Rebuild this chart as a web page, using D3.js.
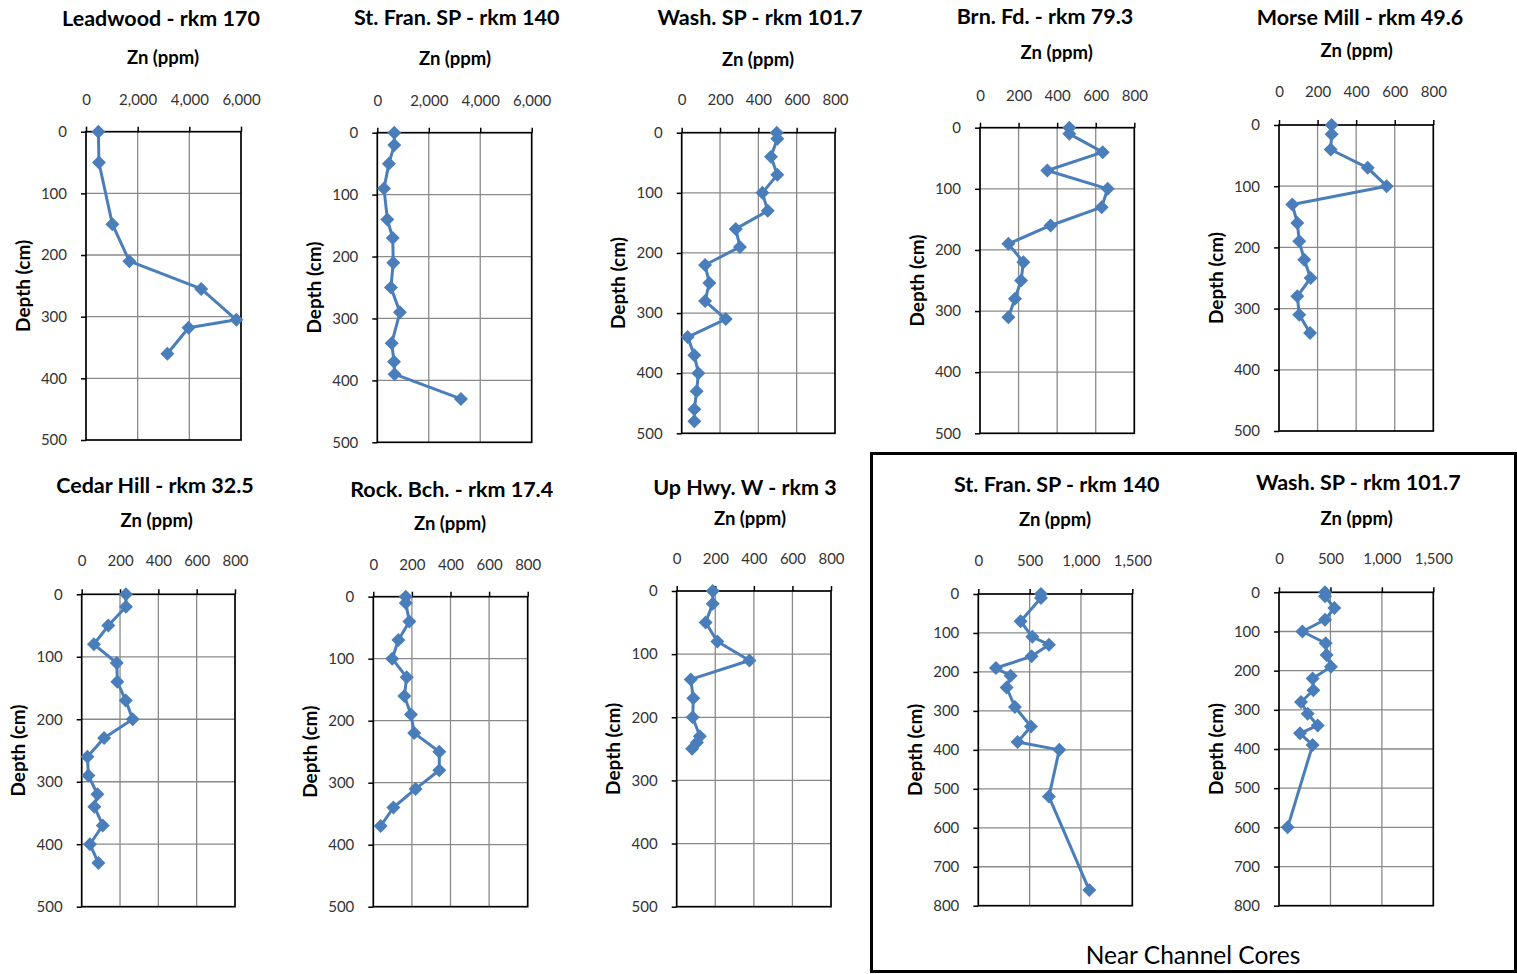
<!DOCTYPE html>
<html>
<head>
<meta charset="utf-8">
<script src="https://cdn.jsdelivr.net/npm/d3@7"></script>
<style>
  html, body { margin: 0; padding: 0; background: #fff; }
  svg { display: block; font-family: Lato, "Open Sans", sans-serif; }
</style>
</head>
<body>
<svg id="chart" width="1517" height="974"></svg>
<script>
// ---------- DATA ----------
const coreTitles = [
  "Leadwood - rkm 170", "St. Fran. SP - rkm 140", "Wash. SP - rkm 101.7",
  "Brn. Fd. - rkm 79.3", "Morse Mill - rkm 49.6", "Cedar Hill - rkm 32.5",
  "Rock. Bch. - rkm 17.4", "Up Hwy. W - rkm 3",
  "St. Fran. SP - rkm 140", "Wash. SP - rkm 101.7"
];
const xAxisTitle = "Zn (ppm)";
const yAxisTitle = "Depth (cm)";
const groupLabel = "Near Channel Cores";

const xTicksHigh = [0, 2000, 4000, 6000];
const xTicksLow = [0, 200, 400, 600, 800];
const xTicksChannel = [0, 500, 1000, 1500];
const yTicksShallow = [0, 100, 200, 300, 400, 500];
const yTicksDeep = [0, 100, 200, 300, 400, 500, 600, 700, 800];

const leadwoodDepth = [0, 50, 150, 210, 255, 305, 318, 360];
const leadwoodZn    = [480, 500, 1020, 1680, 4460, 5820, 3970, 3150];

const stFranDepth = [0, 20, 50, 90, 140, 170, 210, 250, 290, 340, 370, 390, 430];
const stFranZn    = [660, 660, 450, 260, 390, 600, 620, 530, 880, 560, 650, 670, 3250];

const washDepth = [0, 10, 40, 70, 100, 130, 160, 190, 220, 250, 280, 310, 340, 370, 400, 430, 460, 480];
const washZn    = [496, 499, 466, 499, 421, 449, 282, 304, 122, 144, 122, 230, 31, 66, 87, 78, 66, 66];

const brnFdDepth = [0, 10, 40, 70, 100, 130, 160, 190, 220, 250, 280, 310];
const brnFdZn    = [463, 463, 636, 349, 662, 631, 366, 147, 225, 213, 181, 147];

const morseDepth = [0, 15, 40, 70, 100, 130, 160, 190, 220, 250, 280, 310, 340];
const morseZn    = [273, 273, 268, 460, 558, 69, 95, 105, 131, 164, 95, 105, 161];

const cedarDepth = [0, 20, 50, 80, 110, 140, 170, 200, 230, 260, 290, 320, 340, 370, 400, 430];
const cedarZn    = [231, 231, 139, 64, 183, 186, 230, 266, 117, 30, 35, 82, 66, 110, 43, 87];

const rockDepth = [0, 10, 40, 70, 100, 130, 160, 190, 220, 250, 280, 310, 340, 370];
const rockZn    = [168, 168, 187, 130, 98, 173, 161, 195, 212, 342, 342, 219, 104, 38];

const upHwyDepth = [0, 20, 50, 80, 110, 140, 170, 200, 230, 240, 250];
const upHwyZn    = [187, 187, 150, 211, 377, 73, 86, 83, 120, 105, 80];

const stFranChDepth = [0, 10, 70, 110, 130, 160, 190, 210, 240, 290, 340, 380, 400, 520, 760];
const stFranChZn    = [610, 610, 412, 526, 688, 519, 172, 315, 276, 357, 513, 383, 789, 688, 1081];

const washChDepth = [0, 10, 40, 70, 100, 130, 160, 190, 220, 250, 280, 310, 340, 360, 390, 600];
const washChZn    = [447, 447, 538, 447, 227, 454, 463, 505, 327, 334, 214, 279, 376, 204, 327, 84];

// ---------- LAYOUT (positions only) ----------
const layout = [
  {L: 86,    R: 241,    T: 131.7, B: 440,   tx: 161,    ty: 18,  zx: 163,    zy: 57,  ky: 98.5},
  {L: 377.3, R: 531.7,  T: 132.7, B: 442.3, tx: 456.7,  ty: 17,  zx: 455,    zy: 58,  ky: 100},
  {L: 681.7, R: 835,    T: 132.7, B: 433.3, tx: 760,    ty: 17,  zx: 758,    zy: 59,  ky: 99},
  {L: 980,   R: 1134.3, T: 127.7, B: 433.3, tx: 1045,   ty: 16,  zx: 1056.7, zy: 52,  ky: 95},
  {L: 1279,  R: 1433.3, T: 125,   B: 431,   tx: 1360,   ty: 17,  zx: 1356.7, zy: 50,  ky: 91},
  {L: 81.7,  R: 235,    T: 594.3, B: 906.7, tx: 155,    ty: 485, zx: 156.7,  zy: 520, ky: 560},
  {L: 373.3, R: 527.7,  T: 596.7, B: 906.7, tx: 451.7,  ty: 489, zx: 450,    zy: 523, ky: 564},
  {L: 676.7, R: 831,    T: 591,   B: 906.7, tx: 745,    ty: 487, zx: 750,    zy: 518, ky: 557.7},
  {L: 978.3, R: 1132.3, T: 594,   B: 905.7, tx: 1056.7, ty: 484, zx: 1055,   zy: 519, ky: 560},
  {L: 1279,  R: 1433.3, T: 592.3, B: 905.7, tx: 1358.3, ty: 482, zx: 1356.7, zy: 518, ky: 558}
];

const series = [
  {depth: leadwoodDepth, zn: leadwoodZn, xt: xTicksHigh, yt: yTicksShallow},
  {depth: stFranDepth, zn: stFranZn, xt: xTicksHigh, yt: yTicksShallow},
  {depth: washDepth, zn: washZn, xt: xTicksLow, yt: yTicksShallow},
  {depth: brnFdDepth, zn: brnFdZn, xt: xTicksLow, yt: yTicksShallow},
  {depth: morseDepth, zn: morseZn, xt: xTicksLow, yt: yTicksShallow},
  {depth: cedarDepth, zn: cedarZn, xt: xTicksLow, yt: yTicksShallow},
  {depth: rockDepth, zn: rockZn, xt: xTicksLow, yt: yTicksShallow},
  {depth: upHwyDepth, zn: upHwyZn, xt: xTicksLow, yt: yTicksShallow},
  {depth: stFranChDepth, zn: stFranChZn, xt: xTicksChannel, yt: yTicksDeep},
  {depth: washChDepth, zn: washChZn, xt: xTicksChannel, yt: yTicksDeep}
];

// ---------- DRAW ----------
const svg = d3.select("#chart");
const lineColor = "#4a7ebb";
const fmt = d3.format(",");
const diamond = d3.symbol(d3.symbolSquare, 98)();

series.forEach((s, i) => {
  const p = layout[i];
  const xs = d3.scaleLinear().domain([s.xt[0], s.xt[s.xt.length - 1]]).range([p.L, p.R]);
  const ys = d3.scaleLinear().domain([s.yt[0], s.yt[s.yt.length - 1]]).range([p.T, p.B]);
  const g = svg.append("g");

  // gridlines
  const grid = g.append("g");
  grid.selectAll("line.vg").data(s.xt.slice(1, -1)).join("line")
    .attr("x1", d => xs(d)).attr("x2", d => xs(d))
    .attr("y1", p.T).attr("y2", p.B)
    .attr("stroke", "#8a8a8a").attr("stroke-width", 1.3);
  grid.selectAll("line.hg").data(s.yt.slice(1, -1)).join("line")
    .attr("x1", p.L).attr("x2", p.R)
    .attr("y1", d => ys(d)).attr("y2", d => ys(d))
    .attr("stroke", "#8a8a8a").attr("stroke-width", 1.3);

  // axes (top & left), with outward ticks
  const xAxis = d3.axisTop(xs).tickValues(s.xt).tickSize(5).tickPadding(26).tickFormat(fmt);
  const yAxis = d3.axisLeft(ys).tickValues(s.yt).tickSize(5).tickPadding(14);
  const gx = g.append("g").attr("transform", `translate(0,${p.T})`).call(xAxis);
  const gy = g.append("g").attr("transform", `translate(${p.L},0)`).call(yAxis);
  [gx, gy].forEach(a => {
    a.select(".domain").remove();
    a.selectAll(".tick line").attr("stroke", "#000").attr("stroke-width", 1.5);
    a.selectAll(".tick text").attr("fill", "#333")
      .style("font-size", "15px").style("font-family", "Lato, sans-serif");
  });
  gx.selectAll(".tick text").attr("y", null).attr("dy", null)
    .attr("transform", `translate(0,${p.ky - p.T})`).attr("dominant-baseline", "central");

  // frame
  g.append("rect").attr("x", p.L).attr("y", p.T)
    .attr("width", p.R - p.L).attr("height", p.B - p.T)
    .attr("fill", "none").attr("stroke", "#000").attr("stroke-width", 1.7);

  // titles
  g.append("text").attr("x", p.tx).attr("y", p.ty).attr("text-anchor", "middle")
    .attr("dominant-baseline", "central")
    .style("font-size", "21.5px").style("font-weight", "bold").attr("fill", "#000")
    .text(coreTitles[i]);
  g.append("text").attr("x", p.zx).attr("y", p.zy).attr("text-anchor", "middle")
    .attr("dominant-baseline", "central")
    .style("font-size", "18.5px").style("font-weight", "bold").attr("fill", "#000")
    .text(xAxisTitle);
  g.append("text")
    .attr("transform", `translate(${p.L - 64},${(p.T + p.B) / 2}) rotate(-90)`)
    .attr("text-anchor", "middle").attr("dominant-baseline", "central")
    .style("font-size", "19px").style("font-weight", "bold").attr("fill", "#000")
    .text(yAxisTitle);

  // profile line
  const pts = s.depth.map((d, k) => ({d, z: s.zn[k]}));
  g.append("path").datum(pts)
    .attr("d", d3.line().x(o => xs(o.z)).y(o => ys(o.d)))
    .attr("fill", "none").attr("stroke", lineColor).attr("stroke-width", 3)
    .attr("stroke-linejoin", "round");
  g.selectAll("path.mk").data(pts).join("path")
    .attr("class", "mk")
    .attr("d", diamond)
    .attr("transform", o => `translate(${xs(o.z)},${ys(o.d)}) rotate(45)`)
    .attr("fill", lineColor);
});

// near channel group box
svg.append("rect").attr("x", 871.5).attr("y", 453.5).attr("width", 644).attr("height", 518)
  .attr("fill", "none").attr("stroke", "#000").attr("stroke-width", 3);
svg.append("text").attr("x", 1193).attr("y", 954).attr("text-anchor", "middle")
  .attr("dominant-baseline", "central")
  .style("font-size", "24.5px").attr("fill", "#000")
  .text(groupLabel);
</script>
</body>
</html>
